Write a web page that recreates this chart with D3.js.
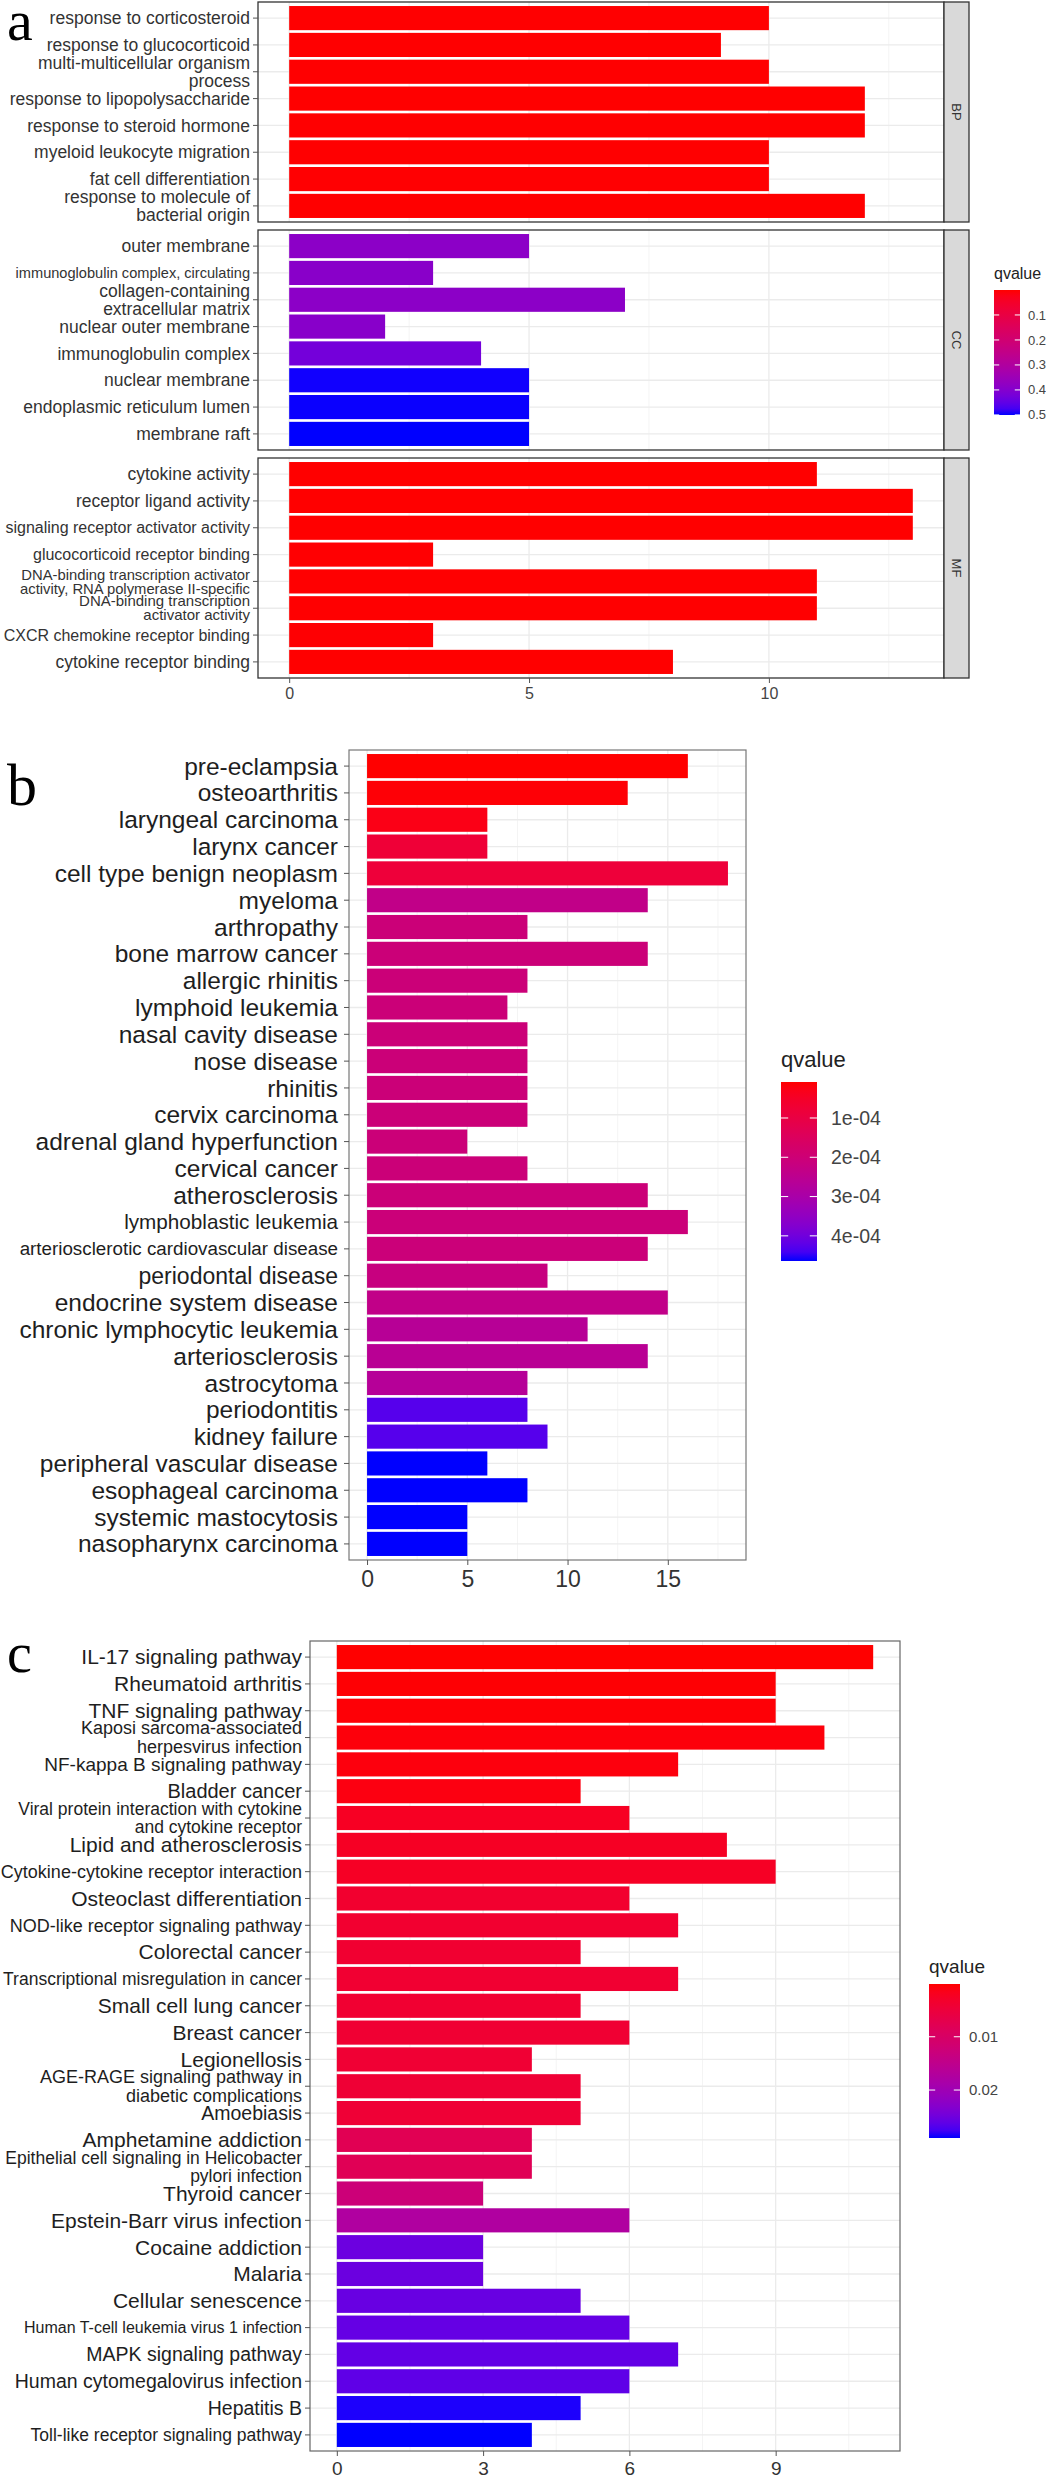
<!DOCTYPE html>
<html><head><meta charset="utf-8">
<script src="https://cdn.jsdelivr.net/npm/d3@7"></script>
<style>body{margin:0;background:#fff} svg{display:block}</style>
</head><body>
<svg id="chart" width="1046" height="2479"></svg>
<script>
// ================= DATA =================
// ---- Panel a : GO enrichment (facets BP / CC / MF) ----
const bpTerms = ["response to corticosteroid","response to glucocorticoid","multi-multicellular organism\nprocess","response to lipopolysaccharide","response to steroid hormone","myeloid leukocyte migration","fat cell differentiation","response to molecule of\nbacterial origin"];
const bpCounts = [10, 9, 10, 12, 12, 10, 10, 12];
const bpQvalues = [0.0009, 0.0011, 0.0012, 0.0004, 0.0006, 0.0013, 0.0015, 0.0005];

const ccTerms = ["outer membrane","immunoglobulin complex, circulating","collagen-containing\nextracellular matrix","nuclear outer membrane","immunoglobulin complex","nuclear membrane","endoplasmic reticulum lumen","membrane raft"];
const ccCounts = [5, 3, 7, 2, 4, 5, 5, 5];
const ccQvalues = [0.385, 0.39, 0.385, 0.392, 0.425, 0.498, 0.499, 0.5003];

const mfTerms = ["cytokine activity","receptor ligand activity","signaling receptor activator activity","glucocorticoid receptor binding","DNA-binding transcription activator\nactivity, RNA polymerase II-specific","DNA-binding transcription\nactivator activity","CXCR chemokine receptor binding","cytokine receptor binding"];
const mfCounts = [11, 13, 13, 3, 11, 11, 3, 8];
const mfQvalues = [0.0001, 0.0002, 0.0002, 0.0021, 0.0008, 0.0009, 0.0025, 0.0003];

const facetNames = ["BP", "CC", "MF"];
const aTicks = [0, 5, 10];
const aLegendTicks = [0.1, 0.2, 0.3, 0.4, 0.5];
const aLegendLabels = ["0.1", "0.2", "0.3", "0.4", "0.5"];

// ---- Panel b : disease ontology ----
const doTerms = ["pre-eclampsia","osteoarthritis","laryngeal carcinoma","larynx cancer","cell type benign neoplasm","myeloma","arthropathy","bone marrow cancer","allergic rhinitis","lymphoid leukemia","nasal cavity disease","nose disease","rhinitis","cervix carcinoma","adrenal gland hyperfunction","cervical cancer","atherosclerosis","lymphoblastic leukemia","arteriosclerotic cardiovascular disease","periodontal disease","endocrine system disease","chronic lymphocytic leukemia","arteriosclerosis","astrocytoma","periodontitis","kidney failure","peripheral vascular disease","esophageal carcinoma","systemic mastocytosis","nasopharynx carcinoma"];
const doCounts = [16, 13, 6, 6, 18, 14, 8, 14, 8, 7, 8, 8, 8, 8, 5, 8, 14, 16, 14, 9, 15, 11, 14, 8, 8, 9, 6, 8, 5, 5];
const doQvalues = [0.0000084, 0.000013, 0.000027, 0.000077, 0.000081, 0.000236, 0.000204, 0.000204, 0.000204, 0.000204, 0.000204, 0.000204, 0.000204, 0.000204, 0.000204, 0.000204, 0.000204, 0.000206, 0.000206, 0.000218, 0.000236, 0.000263, 0.000259, 0.000268, 0.000428, 0.000428, 0.000464, 0.000464, 0.000464, 0.000464];
const bTicks = [0, 5, 10, 15];
const bLegendTicks = [0.0001, 0.0002, 0.0003, 0.0004];
const bLegendLabels = ["1e-04", "2e-04", "3e-04", "4e-04"];

// ---- Panel c : KEGG pathways ----
const keggTerms = ["IL-17 signaling pathway","Rheumatoid arthritis","TNF signaling pathway","Kaposi sarcoma-associated\nherpesvirus infection","NF-kappa B signaling pathway","Bladder cancer","Viral protein interaction with cytokine\nand cytokine receptor","Lipid and atherosclerosis","Cytokine-cytokine receptor interaction","Osteoclast differentiation","NOD-like receptor signaling pathway","Colorectal cancer","Transcriptional misregulation in cancer","Small cell lung cancer","Breast cancer","Legionellosis","AGE-RAGE signaling pathway in\ndiabetic complications","Amoebiasis","Amphetamine addiction","Epithelial cell signaling in Helicobacter\npylori infection","Thyroid cancer","Epstein-Barr virus infection","Cocaine addiction","Malaria","Cellular senescence","Human T-cell leukemia virus 1 infection","MAPK signaling pathway","Human cytomegalovirus infection","Hepatitis B","Toll-like receptor signaling pathway"];
const keggCounts = [11, 9, 9, 10, 7, 5, 6, 8, 9, 6, 7, 5, 7, 5, 6, 4, 5, 5, 4, 4, 3, 6, 3, 3, 5, 6, 7, 6, 5, 4];
const keggQvalues = [0.0001, 0.0003, 0.0004, 0.0006, 0.0007, 0.0009, 0.0023, 0.0024, 0.0025, 0.0035, 0.0036, 0.0037, 0.0038, 0.0039, 0.0040, 0.0041, 0.0042, 0.0043, 0.0078, 0.0080, 0.0125, 0.0175, 0.0253, 0.0254, 0.0256, 0.0258, 0.0259, 0.0262, 0.0287, 0.0290];
const cTicks = [0, 3, 6, 9];
const cLegendTicks = [0.01, 0.02];
const cLegendLabels = ["0.01", "0.02"];

// ================= STYLE =================
const FONT = "'Liberation Sans', Arial, Helvetica, sans-serif";
const SERIF = "'Liberation Serif', 'Times New Roman', serif";
const labelSizeA = {
  "immunoglobulin complex, circulating": 14.6,
  "signaling receptor activator activity": 16,
  "glucocorticoid receptor binding": 16,
  "CXCR chemokine receptor binding": 16,
  "DNA-binding transcription activator\nactivity, RNA polymerase II-specific": 14.8,
  "DNA-binding transcription\nactivator activity": 15
};
const lineGapA = {
  "DNA-binding transcription activator\nactivity, RNA polymerase II-specific": 14,
  "DNA-binding transcription\nactivator activity": 14
};
const labelSizeB = {
  "lymphoblastic leukemia": 20.7,
  "arteriosclerotic cardiovascular disease": 18.8,
  "periodontal disease": 23
};
const labelSizeC = {
  "Kaposi sarcoma-associated\nherpesvirus infection": 18,
  "NF-kappa B signaling pathway": 19,
  "Bladder cancer": 20,
  "Viral protein interaction with cytokine\nand cytokine receptor": 17.5,
  "Cytokine-cytokine receptor interaction": 18,
  "NOD-like receptor signaling pathway": 18,
  "Transcriptional misregulation in cancer": 17.5,
  "AGE-RAGE signaling pathway in\ndiabetic complications": 18,
  "Amoebiasis": 19.5,
  "Epithelial cell signaling in Helicobacter\npylori infection": 17.5,
  "Human T-cell leukemia virus 1 infection": 16,
  "MAPK signaling pathway": 19.5,
  "Human cytomegalovirus infection": 19.5,
  "Hepatitis B": 19.5,
  "Toll-like receptor signaling pathway": 17.5
};

const svg = d3.select("#chart");
svg.append("rect").attr("width", 1046).attr("height", 2479).attr("fill", "#fff");
const defs = svg.append("defs");

function makeColor(qs) {
  const ext = d3.extent(qs);
  return d3.scaleLinear().domain(ext).range(["#ff0000", "#0000ff"]).interpolate(d3.interpolateLab);
}

function xScale(maxVal, left, right) {
  const pad = maxVal * 0.05;
  return d3.scaleLinear().domain([-pad, maxVal + pad]).range([left, right]);
}

function drawPanelBody(g, o) {
  const y = d3.scaleBand().domain(o.terms).range([o.top, o.bottom]).paddingInner(0.1).paddingOuter(0.15);
  g.append("rect").attr("x", o.left).attr("y", o.top).attr("width", o.right - o.left).attr("height", o.bottom - o.top).attr("fill", "#fff");
  const dom = o.x.domain();
  const minor = [];
  for (let v = o.ticks[0] - o.tickStep / 2; v <= dom[1]; v += o.tickStep) if (v >= dom[0]) minor.push(v);
  g.selectAll(null).data(minor).join("line")
    .attr("x1", d => o.x(d)).attr("x2", d => o.x(d)).attr("y1", o.top).attr("y2", o.bottom)
    .attr("stroke", "#f4f4f4").attr("stroke-width", 1);
  g.selectAll(null).data(o.ticks).join("line")
    .attr("x1", d => o.x(d)).attr("x2", d => o.x(d)).attr("y1", o.top).attr("y2", o.bottom)
    .attr("stroke", "#ebebeb").attr("stroke-width", 1.3);
  g.selectAll(null).data(o.terms).join("line")
    .attr("x1", o.left).attr("x2", o.right)
    .attr("y1", d => y(d) + y.bandwidth() / 2).attr("y2", d => y(d) + y.bandwidth() / 2)
    .attr("stroke", "#ebebeb").attr("stroke-width", 1.3);
  const rows = o.terms.map((t, i) => ({ t, c: o.counts[i], q: o.q[i] }));
  g.selectAll(null).data(rows).join("rect")
    .attr("x", o.x(0)).attr("y", d => y(d.t))
    .attr("width", d => o.x(d.c) - o.x(0)).attr("height", y.bandwidth())
    .attr("fill", d => o.color(d.q));
  g.append("rect").attr("x", o.left).attr("y", o.top).attr("width", o.right - o.left).attr("height", o.bottom - o.top)
    .attr("fill", "none").attr("stroke", o.borderColor || "#444").attr("stroke-width", o.borderWidth || 1.2);
  g.selectAll(null).data(o.terms).join("line")
    .attr("x1", o.left - 5).attr("x2", o.left)
    .attr("y1", d => y(d) + y.bandwidth() / 2).attr("y2", d => y(d) + y.bandwidth() / 2)
    .attr("stroke", "#555").attr("stroke-width", 1);
  o.terms.forEach(t => {
    const fs = o.sizes[t] || o.baseSize;
    const lines = t.split("\n");
    const lh = (o.gaps && o.gaps[t]) || fs * 1.06;
    const cy = y(t) + y.bandwidth() / 2;
    const text = g.append("text").attr("text-anchor", "end").attr("font-size", fs)
      .attr("font-family", FONT).attr("fill", o.textColor);
    lines.forEach((ln, i) => text.append("tspan").attr("x", o.labelRight)
      .attr("y", cy + (i - (lines.length - 1) / 2) * lh).attr("dy", "0.35em").text(ln));
  });
  return y;
}

function drawXAxis(g, x, ticks, yPos, fontSize, pad, color) {
  const ax = g.append("g").attr("transform", `translate(0,${yPos})`)
    .call(d3.axisBottom(x).tickValues(ticks).tickSize(5).tickPadding(pad).tickFormat(d3.format("d")));
  ax.select(".domain").remove();
  ax.selectAll(".tick line").attr("stroke", "#555");
  ax.selectAll(".tick text").attr("font-size", fontSize).attr("font-family", FONT).attr("fill", color);
}

function drawLegend(g, o) {
  const ext = o.color.domain();
  const grad = defs.append("linearGradient").attr("id", o.id).attr("x1", 0).attr("x2", 0).attr("y1", 0).attr("y2", 1);
  d3.range(0, 1.0001, 0.05).forEach(t => grad.append("stop").attr("offset", t)
    .attr("stop-color", o.color(ext[0] + t * (ext[1] - ext[0]))));
  g.append("text").attr("x", o.x).attr("y", o.titleY).attr("font-size", o.titleSize)
    .attr("font-family", FONT).attr("fill", "#222").text("qvalue");
  g.append("rect").attr("x", o.x).attr("y", o.top).attr("width", o.width).attr("height", o.bottom - o.top)
    .attr("fill", `url(#${o.id})`);
  const ly = d3.scaleLinear().domain(ext).range([o.top, o.bottom]);
  const tw = o.width / 5;
  o.ticks.forEach((v, i) => {
    const yy = ly(v);
    g.append("line").attr("x1", o.x).attr("x2", o.x + tw).attr("y1", yy).attr("y2", yy).attr("stroke", "#fff").attr("stroke-width", 1);
    g.append("line").attr("x1", o.x + o.width - tw).attr("x2", o.x + o.width).attr("y1", yy).attr("y2", yy).attr("stroke", "#fff").attr("stroke-width", 1);
    g.append("text").attr("x", o.x + o.width + o.labelGap).attr("y", yy).attr("dy", "0.35em")
      .attr("font-size", o.labelSize).attr("font-family", FONT).attr("fill", "#444").text(o.labels[i]);
  });
}

function panelLetter(txt, x, y, size) {
  svg.append("text").attr("x", x).attr("y", y).attr("font-size", size).attr("font-family", SERIF)
    .attr("fill", "#000").text(txt);
}

// ================= PANEL A =================
{
  const g = svg.append("g");
  const left = 258, right = 944, stripW = 25;
  const facets = [
    { name: facetNames[0], terms: bpTerms, counts: bpCounts, q: bpQvalues, top: 2, bottom: 222 },
    { name: facetNames[1], terms: ccTerms, counts: ccCounts, q: ccQvalues, top: 230, bottom: 450 },
    { name: facetNames[2], terms: mfTerms, counts: mfCounts, q: mfQvalues, top: 458, bottom: 678 }
  ];
  const maxVal = d3.max([...bpCounts, ...ccCounts, ...mfCounts]);
  const x = xScale(maxVal, left, right);
  const color = makeColor([...bpQvalues, ...ccQvalues, ...mfQvalues]);
  facets.forEach(f => {
    drawPanelBody(g, { terms: f.terms, counts: f.counts, q: f.q, x, top: f.top, bottom: f.bottom, left, right,
      color, ticks: aTicks, tickStep: 5, sizes: labelSizeA, gaps: lineGapA, baseSize: 17.5, labelRight: 250, textColor: "#333",
      borderColor: "#333", borderWidth: 1.3 });
    g.append("rect").attr("x", right).attr("y", f.top).attr("width", stripW).attr("height", f.bottom - f.top)
      .attr("fill", "#d9d9d9").attr("stroke", "#333").attr("stroke-width", 1.3);
    g.append("text").attr("transform", `translate(${right + stripW / 2},${(f.top + f.bottom) / 2}) rotate(90)`)
      .attr("text-anchor", "middle").attr("dy", "0.35em").attr("font-size", 13).attr("font-family", FONT)
      .attr("fill", "#333").text(f.name);
  });
  drawXAxis(g, x, aTicks, 678, 16, 5, "#444");
  drawLegend(g, { color, x: 994, top: 290, bottom: 415, width: 26, ticks: aLegendTicks, labels: aLegendLabels,
    titleSize: 16, labelSize: 13, titleY: 279, labelGap: 8, id: "gradA" });
  panelLetter("a", 7, 40, 58);
}

// ================= PANEL B =================
{
  const g = svg.append("g");
  const left = 349, right = 746, top = 750, bottom = 1560;
  const x = xScale(d3.max(doCounts), left, right);
  const color = makeColor(doQvalues);
  drawPanelBody(g, { terms: doTerms, counts: doCounts, q: doQvalues, x, top, bottom, left, right, color,
    ticks: bTicks, tickStep: 5, sizes: labelSizeB, baseSize: 24.5, labelRight: 338, textColor: "#1e1e1e",
    borderColor: "#777", borderWidth: 1.2 });
  drawXAxis(g, x, bTicks, bottom, 23, 6, "#333");
  drawLegend(g, { color, x: 781, top: 1082, bottom: 1261, width: 36, ticks: bLegendTicks, labels: bLegendLabels,
    titleSize: 22, labelSize: 19.5, titleY: 1067, labelGap: 14, id: "gradB" });
  panelLetter("b", 7, 805, 60);
}

// ================= PANEL C =================
{
  const g = svg.append("g");
  const left = 310, right = 900, top = 1641, bottom = 2451;
  const x = xScale(d3.max(keggCounts), left, right);
  const color = makeColor(keggQvalues);
  drawPanelBody(g, { terms: keggTerms, counts: keggCounts, q: keggQvalues, x, top, bottom, left, right, color,
    ticks: cTicks, tickStep: 3, sizes: labelSizeC, baseSize: 21, labelRight: 302, textColor: "#1e1e1e",
    borderColor: "#666", borderWidth: 1.2 });
  drawXAxis(g, x, cTicks, bottom, 19, 6, "#333");
  drawLegend(g, { color, x: 929, top: 1984, bottom: 2138, width: 31, ticks: cLegendTicks, labels: cLegendLabels,
    titleSize: 19, labelSize: 15, titleY: 1973, labelGap: 9, id: "gradC" });
  panelLetter("c", 7, 1672, 56);
}
</script>
</body></html>
